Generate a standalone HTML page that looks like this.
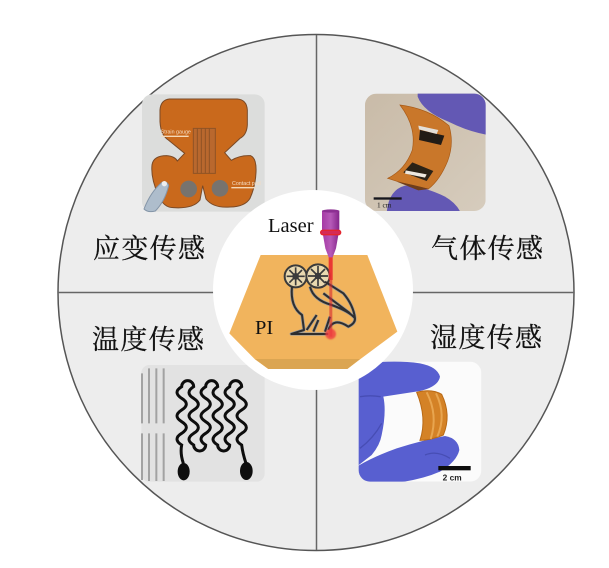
<!DOCTYPE html>
<html><head><meta charset="utf-8">
<style>
html,body{margin:0;padding:0;background:#fff;width:609px;height:568px;overflow:hidden}
svg{display:block}
.cn{font-family:"Liberation Serif","Noto Serif CJK SC",serif;font-size:27px;fill:#111;stroke:#111;stroke-width:.25}
</style></head><body>
<svg width="609" height="568" viewBox="0 0 609 568" xmlns="http://www.w3.org/2000/svg">
<defs>
<filter id="b" x="-5%" y="-5%" width="110%" height="110%"><feGaussianBlur stdDeviation="0.7"/></filter>
<filter id="b3" x="-50%" y="-50%" width="200%" height="200%"><feGaussianBlur stdDeviation="2"/></filter>
<linearGradient id="noz" x1="0" x2="1" y1="0" y2="0"><stop offset="0" stop-color="#a63aa5"/><stop offset=".5" stop-color="#b65ab8"/><stop offset="1" stop-color="#83258a"/></linearGradient>
<linearGradient id="beige" x1="0" x2="1" y1="0" y2="1"><stop offset="0" stop-color="#c9bba8"/><stop offset="1" stop-color="#d6ccbd"/></linearGradient>
<clipPath id="cg"><rect x="30" y="26" width="362" height="352" rx="34"/></clipPath>
<clipPath id="ch"><rect x="26" y="20" width="368" height="360" rx="34"/></clipPath>
</defs>
<circle cx="316" cy="292.500" r="258" fill="#ededed" stroke="#555" stroke-width="1.500"/>
<line x1="316.500" y1="35" x2="316.500" y2="550" stroke="#666" stroke-width="1.500"/>
<line x1="58" y1="292.500" x2="574" y2="292.500" stroke="#666" stroke-width="1.500"/>

<!-- strain -->
<g transform="translate(130,85) scale(.33333)" filter="url(#b)">
<rect x="36" y="28" width="368" height="352" rx="30" fill="#dcdddc"/>
<path d="M118 42H322Q350 44 352 75V120Q350 150 330 160L284 203L304 226Q330 210 362 212Q380 220 378 262Q376 305 360 340Q345 365 300 366Q250 370 228 342L218 302L210 345Q190 372 130 368Q100 368 85 330Q62 280 66 240Q70 212 110 212Q135 214 142 228L164 205L115 165Q92 150 90 110V75Q92 45 118 42Z" fill="#c9691f" stroke="#7a4a25" stroke-width="3"/>
<g stroke="#8f5325" stroke-width="3"><path d="M190 130H256V265H190Z" fill="#b9682f"/><path d="M202 130V265M214 130V265M226 130V265M238 130V265"/></g>
<circle cx="176" cy="312" r="25" fill="#77736e"/><circle cx="270" cy="310" r="25" fill="#77736e"/>
<path d="M94 154H176" stroke="#f5d9b8" stroke-width="4"/><path d="M304 308H376" stroke="#f5d9b8" stroke-width="4"/>
<text x="92" y="146" font-family="Liberation Sans,sans-serif" font-size="16" fill="#f5dcc0">Strain gauge</text>
<text x="306" y="300" font-family="Liberation Sans,sans-serif" font-size="16" fill="#f5dcc0">Contact pad</text>
<path d="M42 372Q62 320 96 292Q112 288 116 302Q104 350 76 378Q54 384 42 372Z" fill="#aebdcc" stroke="#8495a8" stroke-width="3"/>
<circle cx="103" cy="296" r="8" fill="#eee"/>
</g>

<!-- gas -->
<g transform="translate(355,85) scale(.33333)" filter="url(#b)">
<g clip-path="url(#cg)">
<rect x="30" y="26" width="362" height="352" fill="url(#beige)"/>
<path d="M188 20H400V150Q340 140 280 110Q205 80 188 35Z" fill="#6458b4"/>
<path d="M95 385Q100 315 150 302Q210 305 270 335Q305 355 318 385Z" fill="#6458b4"/>
<path d="M135 60Q220 70 282 122Q298 175 278 228Q255 285 220 312Q150 298 98 280Q150 255 172 195Q185 125 135 60Z" fill="#c9772a" stroke="#a85a18" stroke-width="2"/>
<path d="M195 135L268 152L258 180L192 165Z" fill="#241b18"/>
<path d="M190 122L250 135L245 147L192 133Z" fill="#e3dfd8"/>
<path d="M172 232L235 258L215 288L145 262Z" fill="#2a2019"/>
<path d="M152 256L215 268L210 278L150 266Z" fill="#eee8de"/>
<path d="M125 290Q170 298 222 312L190 316Z" fill="#6e3c1c"/>
</g>
<rect x="56" y="337" width="84" height="7" fill="#17171d"/>
<text x="66" y="368" font-family="Liberation Serif,serif" font-size="22" fill="#222">1 cm</text>
</g>

<!-- temperature -->
<g transform="translate(130,355) scale(.33333)" filter="url(#b)">
<rect x="34" y="30" width="370" height="350" rx="24" fill="#e2e2e2"/>
<g stroke="#a2a2a2" stroke-width="6"><path d="M36 55V205M36 235V375M57 40V205M57 235V378M79 40V205M79 235V378M101 40V205M101 235V378"/></g>
<path fill="none" stroke="#0b0b0b" stroke-width="9" d="M160 325Q150 295 155 270
q-28 -18 0 -35q28 -18 0 -35q-28 -17 0 -35q28 -18 0 -35q-28 -18 0 -35
a18 18 0 0 1 36 0
q-28 18 0 35q28 18 0 35q-28 17 0 35q28 18 0 35q-28 18 0 35
a18 18 0 0 0 36 0
q-28 -18 0 -35q28 -18 0 -35q-28 -17 0 -35q28 -18 0 -35q-28 -18 0 -35
a18 18 0 0 1 36 0
q-28 18 0 35q28 18 0 35q-28 17 0 35q28 18 0 35q-28 18 0 35
a18 18 0 0 0 36 0
q-28 -18 0 -35q28 -18 0 -35q-28 -17 0 -35q28 -18 0 -35q-28 -18 0 -35
a18 18 0 0 1 36 0
q-28 18 0 35q28 18 0 35q-28 17 0 35q28 18 0 35q-28 18 0 35
Q338 295 348 325"/>
<ellipse cx="161" cy="350" rx="18" ry="26" fill="#0b0b0b"/><ellipse cx="349" cy="348" rx="19" ry="27" fill="#0b0b0b"/>
</g>

<!-- humidity -->
<g transform="translate(350,355) scale(.33333)" filter="url(#b)">
<g clip-path="url(#ch)">
<rect x="26" y="20" width="368" height="360" fill="#fbfbfb"/>
<path d="M20 30Q120 12 210 25Q262 35 270 65Q265 95 210 108L100 125Q110 170 95 240Q90 270 65 300L20 335Z" fill="#585fd0"/>
<path d="M20 335Q70 305 140 280Q220 255 285 243Q325 250 328 285Q320 320 270 350Q190 385 60 390L20 390Z" fill="#585fd0"/>
<path d="M200 112Q245 100 275 118Q305 180 280 240Q245 255 210 256Q232 190 200 112Z" fill="#d48225" stroke="#b96a17" stroke-width="3"/>
<path d="M230 112Q265 180 242 252M258 115Q290 180 262 245" stroke="#e8a550" stroke-width="6" fill="none"/>
<path d="M30 125Q60 120 92 125M30 280Q70 250 95 205M225 300Q260 285 300 310" stroke="#474eb4" stroke-width="4" fill="none"/>
</g>
<rect x="265" y="333" width="97" height="13" fill="#0b0b0b"/>
<text x="278" y="377" font-family="Liberation Sans,sans-serif" font-size="25" font-weight="bold" fill="#222">2 cm</text>
</g>

<!-- centre -->
<circle cx="313" cy="290" r="100" fill="#fff"/>
<g transform="translate(210,190) scale(.33333)">
<path d="M152 195H472L562 425L450 508L412 537H175L135 508L58 430Z" fill="#f1b45d"/>
<path d="M135 507H450L412 537H175Z" fill="#dba552"/>
<g fill="none" filter="url(#b)">
<g stroke="#9a9a9a" stroke-width="10" stroke-linejoin="round">
<path d="M246 290Q240 350 276 375L282 420L244 432H355M300 290Q310 330 365 345Q420 365 435 385Q436 400 415 410Q370 380 355 420M340 310L420 370M345 275L400 310Q430 345 435 385M320 375L290 420M325 390L310 425M360 380L345 425"/>
</g>
<circle cx="257" cy="259" r="33" fill="#e9d9b0" stroke="#3a3a3a" stroke-width="6"/><circle cx="324" cy="258" r="35" fill="#e9d9b0" stroke="#3a3a3a" stroke-width="6"/>
<path d="M257 232V286M230 259H284M238 240L276 278M276 240L238 278M324 228V288M294 258H354M303 237L345 279M345 237L303 279" stroke="#3a3a3a" stroke-width="5"/>
<circle cx="257" cy="259" r="10" fill="#3a3a3a"/><circle cx="324" cy="258" r="10" fill="#3a3a3a"/>
<path d="M246 290Q240 350 276 375L282 420L244 432H355M300 290Q310 330 365 345Q420 365 435 385Q436 400 415 410Q370 380 355 420M340 310L420 370M345 275L400 310Q430 345 435 385M320 375L290 420M325 390L310 425M360 380L345 425" stroke="#2e2e2e" stroke-width="6" stroke-linejoin="round"/>
</g>
<rect x="356" y="190" width="12" height="80" fill="#e92a2f" opacity=".9"/>
<rect x="358" y="270" width="9" height="170" fill="#d9282d" opacity=".6"/>
<circle cx="362" cy="432" r="16" fill="#ef3b3f" opacity=".8" filter="url(#b3)"/>
<path d="M336 62H388V118L378 175L368 202H356L346 175L336 118Z" fill="url(#noz)"/>
<ellipse cx="362" cy="63" rx="26" ry="5" fill="#8c2f92"/>
<rect x="332" y="121" width="60" height="13" rx="6" fill="#d52a55" stroke="#e4252e" stroke-width="4"/>
</g>
<text x="268" y="232" font-family="Liberation Serif,serif" font-size="20.500" fill="#111">Laser</text>
<text x="255" y="334" font-family="Liberation Serif,serif" font-size="20.500" fill="#111">PI</text>

<text class="cn" x="93" y="258" textLength="112">应变传感</text>
<text class="cn" x="431" y="258" textLength="112">气体传感</text>
<text class="cn" x="92" y="349" textLength="112">温度传感</text>
<text class="cn" x="430" y="347" textLength="112">湿度传感</text>
</svg>
</body></html>
